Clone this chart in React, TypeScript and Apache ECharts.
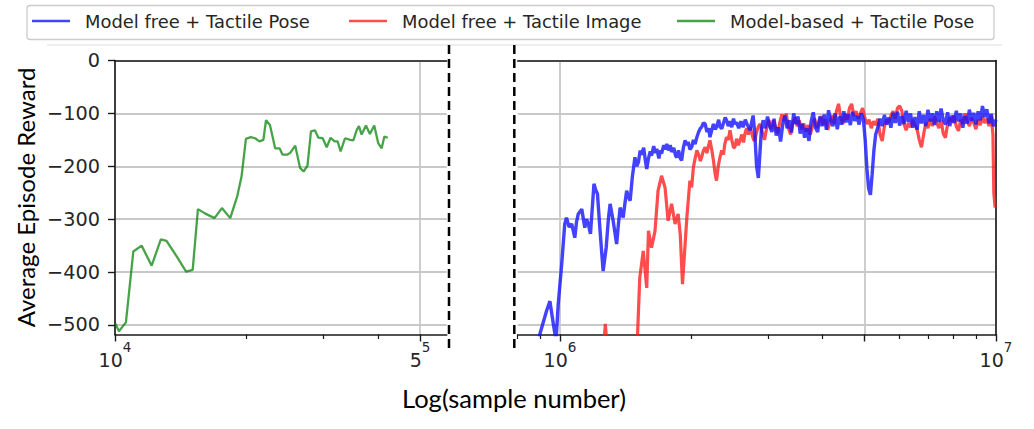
import React, { useEffect, useRef } from 'react';
import * as echarts from 'echarts';

// ---------- data: [log10(sample number), average episode reward] ----------
const greenPoints = [
  [4.000,-496],[4.009,-512],[4.025,-495],[4.042,-361],[4.061,-350],[4.084,-388],[4.105,-338],[4.118,-341],
  [4.141,-370],[4.163,-399],[4.178,-396],[4.190,-281],[4.206,-289],[4.228,-298],[4.245,-279],[4.264,-298],
  [4.280,-257],[4.290,-219],[4.300,-148],[4.311,-145],[4.321,-147],[4.331,-153],[4.340,-150],[4.346,-113],
  [4.355,-122],[4.367,-166],[4.377,-166],[4.384,-178],[4.394,-178],[4.401,-175],[4.413,-161],[4.424,-203],
  [4.432,-210],[4.441,-199],[4.449,-134],[4.458,-132],[4.466,-146],[4.476,-147],[4.485,-164],[4.494,-146],
  [4.503,-153],[4.510,-153],[4.517,-172],[4.527,-147],[4.539,-150],[4.546,-151],[4.554,-131],[4.559,-124],
  [4.565,-140],[4.575,-123],[4.584,-139],[4.594,-123],[4.603,-156],[4.611,-166],[4.617,-144],[4.625,-146],
];

const bluePoints = [
  [5.945,-560],[5.954,-517],[5.969,-474],[5.977,-455],[5.985,-499],[5.991,-530],[5.996,-461],[6.004,-385],
  [6.011,-309],[6.015,-297],[6.021,-315],[6.027,-309],[6.034,-335],[6.038,-305],[6.042,-290],[6.050,-281],
  [6.057,-316],[6.061,-300],[6.065,-309],[6.070,-328],[6.078,-233],[6.082,-245],[6.086,-252],[6.092,-322],
  [6.099,-398],[6.106,-354],[6.111,-300],[6.115,-271],[6.122,-303],[6.130,-347],[6.134,-310],[6.138,-278],
  [6.145,-297],[6.149,-270],[6.153,-246],[6.157,-258],[6.161,-265],[6.166,-220],
  [6.172,-183],[6.176,-200],[6.180,-192],[6.184,-170],[6.187,-178],[6.192,-165],[6.196,-190],[6.199,-205],
  [6.203,-185],[6.207,-172],[6.210,-180],[6.215,-162],[6.219,-175],[6.222,-167],[6.227,-185],[6.230,-170],
  [6.233,-176],[6.238,-160],[6.241,-168],[6.245,-158],[6.249,-170],[6.253,-160],[6.256,-173],[6.261,-165],
  [6.265,-180],[6.268,-183],[6.272,-170],[6.276,-185],[6.279,-189],[6.283,-165],[6.287,-151],[6.291,-160],
  [6.294,-154],[6.298,-168],[6.302,-164],[6.306,-150],[6.310,-158],[6.314,-145],[6.318,-135],[6.322,-128],
  [6.325,-126],[6.329,-118],[6.333,-120],[6.337,-135],[6.341,-128],[6.344,-145],[6.348,-132],[6.352,-120],
  [6.356,-130],[6.359,-126],[6.364,-112],[6.367,-125],[6.371,-129],[6.375,-118],[6.379,-108],[6.382,-113],
  [6.386,-124],[6.390,-115],[6.394,-126],[6.398,-110],[6.401,-120],[6.405,-117],[6.410,-128],[6.415,-115],
  [6.420,-126],[6.425,-112],[6.430,-122],[6.436,-132],[6.440,-115],[6.443,-104],[6.447,-140],[6.451,-200],
  [6.455,-222],[6.459,-170],[6.462,-130],
  [6.466,-113],[6.471,-128],[6.476,-106],[6.481,-124],[6.486,-135],[6.491,-110],[6.496,-142],[6.501,-126],
  [6.506,-153],[6.511,-120],[6.516,-104],[6.521,-128],[6.526,-113],[6.531,-136],[6.536,-100],[6.541,-120],
  [6.546,-106],[6.551,-138],[6.556,-120],[6.561,-146],[6.566,-128],[6.571,-152],[6.576,-115],[6.581,-98],
  [6.586,-127],[6.591,-135],[6.596,-106],[6.601,-124],[6.606,-102],[6.611,-131],[6.616,-94],[6.621,-114],
  [6.626,-124],[6.631,-100],[6.636,-130],[6.641,-106],[6.646,-121],[6.651,-96],[6.656,-117],[6.661,-102],
  [6.666,-122],[6.671,-97],[6.676,-114],[6.681,-105],[6.686,-121],[6.691,-100],[6.696,-112],[6.700,-150],
  [6.704,-205],[6.708,-242],[6.712,-254],[6.716,-215],[6.720,-170],[6.724,-140],[6.729,-126],[6.734,-110],
  [6.739,-124],[6.744,-103],[6.749,-121],[6.754,-108],[6.759,-127],[6.764,-99],[6.769,-118],[6.774,-97],
  [6.779,-123],[6.784,-105],[6.789,-120],[6.794,-95],[6.799,-116],[6.804,-100],[6.809,-127],[6.814,-107],
  [6.819,-131],[6.824,-96],[6.829,-119],[6.834,-103],[6.839,-124],[6.844,-93],[6.849,-115],[6.854,-100],
  [6.859,-122],[6.864,-96],[6.869,-116],[6.874,-91],[6.879,-112],[6.884,-121],[6.889,-98],[6.894,-124],
  [6.899,-104],[6.904,-118],[6.909,-95],[6.914,-115],[6.919,-100],[6.924,-127],[6.929,-105],[6.934,-119],
  [6.939,-93],[6.944,-114],[6.949,-99],[6.954,-121],[6.959,-96],[6.964,-113],[6.969,-86],[6.974,-107],
  [6.979,-92],[6.984,-119],[6.989,-101],[6.994,-124],[7.000,-112],
];

const redPoints = [
  [6.099,-560],[6.104,-498],[6.110,-560],[6.176,-560],[6.183,-411],[6.191,-360],[6.199,-430],[6.203,-322],
  [6.210,-354],[6.218,-322],[6.225,-246],[6.233,-218],[6.241,-240],[6.248,-303],[6.256,-271],[6.264,-309],
  [6.271,-290],[6.276,-330],[6.281,-423],[6.286,-360],[6.291,-297],[6.298,-227],[6.302,-240],[6.306,-202],
  [6.310,-185],[6.314,-170],[6.318,-178],[6.322,-190],[6.325,-183],[6.329,-170],[6.333,-164],[6.337,-175],
  [6.341,-160],[6.344,-151],[6.348,-168],[6.352,-189],[6.356,-215],[6.359,-227],[6.363,-200],[6.367,-183],
  [6.371,-170],[6.375,-178],[6.378,-158],[6.382,-145],[6.386,-150],[6.390,-132],[6.394,-150],[6.398,-165],
  [6.401,-164],[6.405,-148],[6.409,-160],[6.413,-151],[6.417,-140],[6.421,-155],[6.424,-139],[6.428,-128],
  [6.432,-140],[6.436,-126],[6.440,-138],[6.444,-150],[6.447,-151],[6.451,-135],[6.455,-125],
  [6.459,-120],[6.464,-135],[6.469,-150],[6.474,-128],[6.479,-112],[6.484,-130],[6.489,-113],[6.494,-125],
  [6.499,-138],[6.504,-118],[6.509,-102],[6.514,-115],[6.519,-100],[6.524,-128],[6.529,-140],[6.534,-118],
  [6.539,-108],[6.544,-124],[6.549,-113],[6.554,-130],[6.559,-119],[6.564,-135],[6.569,-122],[6.574,-140],
  [6.579,-125],[6.584,-110],[6.589,-128],[6.594,-116],[6.599,-105],[6.604,-122],[6.609,-111],[6.614,-131],
  [6.619,-118],[6.624,-104],[6.629,-120],[6.634,-96],[6.639,-82],[6.644,-108],[6.649,-120],[6.654,-100],
  [6.659,-112],[6.664,-90],[6.669,-82],[6.674,-105],[6.679,-96],[6.684,-110],[6.689,-100],[6.694,-90],
  [6.699,-108],[6.704,-120],[6.709,-112],[6.714,-128],[6.719,-115],[6.724,-122],[6.729,-110],[6.734,-140],
  [6.739,-152],[6.744,-125],[6.749,-112],[6.754,-118],[6.759,-104],[6.764,-96],[6.769,-110],[6.774,-90],
  [6.779,-86],[6.784,-95],[6.789,-120],[6.794,-132],[6.799,-118],[6.804,-126],[6.809,-112],[6.814,-122],
  [6.819,-130],[6.824,-150],[6.829,-164],[6.834,-140],[6.839,-118],[6.844,-128],[6.849,-110],[6.854,-124],
  [6.859,-106],[6.864,-118],[6.869,-128],[6.874,-112],[6.879,-138],[6.884,-146],[6.889,-120],[6.894,-108],
  [6.899,-116],[6.904,-104],[6.909,-125],[6.914,-133],[6.919,-112],[6.924,-120],[6.929,-100],[6.934,-115],
  [6.939,-124],[6.944,-108],[6.949,-118],[6.954,-130],[6.959,-112],[6.964,-122],[6.969,-106],[6.974,-118],
  [6.979,-110],[6.984,-124],[6.989,-104],[6.993,-140],[6.995,-250],[6.998,-278],
];

const seriesNames = ['Model free + Tactile Pose', 'Model free + Tactile Image', 'Model-based + Tactile Pose'];

// ticks (in sample numbers); labels are base with superscript exponent
const leftMajorSamples = [1e4, 5e4];
const leftMajorBase = ['10', '5'];
const leftMajorExp = ['4', '5'];
const leftMinorSamples = [2e4, 3e4, 4e4];
const rightMajorSamples = [1e6, 5e6, 1e7];
const rightMajorBase = ['10', '', '10'];
const rightMajorExp = ['6', '', '7'];
const rightMinorSamples = [8e5, 9e5, 2e6, 3e6, 4e6, 6e6, 7e6, 8e6, 9e6];
const yTicks = [-500, -400, -300, -200, -100, 0];

// ---------- styling ----------
const FONT = 'DejaVu Sans';
const TXT = '#262626';
const SPINE = '#1a1a1a';
const GRIDC = '#c8c8c8';
const BLUE = 'rgba(20,20,255,0.8)';
const RED = 'rgba(255,25,25,0.78)';
const GREEN = 'rgba(0,128,0,0.72)';
const BASE_FS = 19;
const EXP_FS = 13.5;
const DIGIT_W = 0.636; // DejaVu Sans digit advance (em)

const lg = (a: number[]) => a.map((v) => Math.log10(v));

const staticGraphics = [
  {
    type: 'rect', z: 1,
    shape: { x: 27, y: 5.5, width: 967, height: 34, r: 3 },
    style: { fill: '#ffffff', stroke: '#cccccc', lineWidth: 1.3 },
  },
  {
    type: 'line', z: 1,
    shape: { x1: 47, y1: 45, x2: 1002, y2: 45 },
    style: { stroke: '#dddddd', lineWidth: 1 },
  },
  {
    type: 'line', z: 5,
    shape: { x1: 449, y1: 45, x2: 449, y2: 352 },
    style: { stroke: '#000', lineWidth: 2.5, lineDash: [9, 5] },
  },
  {
    type: 'line', z: 5,
    shape: { x1: 514.3, y1: 45, x2: 514.3, y2: 352 },
    style: { stroke: '#000', lineWidth: 2.5, lineDash: [9, 5] },
  },
  {
    type: 'text', z: 5, x: 514, y: 397.5,
    style: { text: 'Log(sample number)', fontFamily: 'Lato', fontSize: 25.5, fill: '#000', align: 'center', verticalAlign: 'middle' },
  },
];

function buildOption() {
  const lMaj = lg(leftMajorSamples);
  const lMin = lg(leftMinorSamples);
  const rMaj = lg(rightMajorSamples);
  const rMin = lg(rightMinorSamples);
  const leftMin = 4;
  const leftMax = 4.76;
  const rightMin = Math.log10(8e5);
  const rightMax = 7;
  const yMin = -518;

  const mainX = (grid: number, min: number, max: number, maj: number[]) => ({
    type: 'value', gridIndex: grid, min, max, position: 'bottom',
    axisLine: { show: true, onZero: false, lineStyle: { color: SPINE, width: 1.6 } },
    axisTick: { show: true, customValues: maj, length: 7, lineStyle: { color: SPINE, width: 1.4 } },
    axisLabel: { show: false, customValues: maj },
    splitLine: { show: true, lineStyle: { color: GRIDC, width: 1.8 } },
  });
  const minorX = (grid: number, min: number, max: number, mn: number[]) => ({
    type: 'value', gridIndex: grid, min, max, position: 'bottom',
    axisLine: { show: false, onZero: false },
    axisTick: { show: true, customValues: mn, length: 4.5, lineStyle: { color: SPINE, width: 1.2 } },
    axisLabel: { show: false },
    splitLine: { show: false },
  });
  const topX = (grid: number, min: number, max: number) => ({
    type: 'value', gridIndex: grid, min, max, position: 'top',
    axisLine: { show: true, onZero: false, lineStyle: { color: SPINE, width: 1.6 } },
    axisTick: { show: false }, axisLabel: { show: false }, splitLine: { show: false },
  });

  const legendLefts = [32, 349, 677];
  const colors = [BLUE, RED, GREEN];

  return {
    animation: false,
    backgroundColor: '#ffffff',
    grid: [
      { left: 115, top: 60.5, width: 331.7, height: 274 },
      { left: 517.7, top: 60.5, width: 478.3, height: 274 },
    ],
    legend: seriesNames.map((name, i) => ({
      data: [name],
      left: legendLefts[i],
      top: 12,
      padding: 0,
      itemWidth: 38,
      itemHeight: 2.5,
      icon: 'rect',
      selectedMode: false,
      z: 10,
      itemStyle: { color: colors[i] },
      textStyle: { fontFamily: FONT, fontSize: 17.9, color: TXT, padding: [0, 0, 0, 10] },
    })),
    xAxis: [
      mainX(0, leftMin, leftMax, lMaj),
      minorX(0, leftMin, leftMax, lMin),
      topX(0, leftMin, leftMax),
      mainX(1, rightMin, rightMax, rMaj),
      minorX(1, rightMin, rightMax, rMin),
      topX(1, rightMin, rightMax),
    ],
    yAxis: [
      {
        type: 'value', gridIndex: 0, min: yMin, max: 0, position: 'left',
        name: 'Average Episode Reward', nameLocation: 'middle', nameGap: 78,
        nameTextStyle: { fontFamily: 'Lato', fontSize: 24, color: '#000' },
        axisLine: { show: true, onZero: false, lineStyle: { color: SPINE, width: 1.6 } },
        axisTick: { show: true, customValues: yTicks, length: 7, lineStyle: { color: SPINE, width: 1.4 } },
        axisLabel: {
          customValues: yTicks, margin: 15, fontFamily: FONT, fontSize: 19.3, color: TXT,
          formatter: (v: number) => (v < 0 ? '\u2212' + Math.abs(v) : String(v)),
        },
        splitLine: { show: true, lineStyle: { color: GRIDC, width: 1.8 } },
      },
      {
        type: 'value', gridIndex: 1, min: yMin, max: 0, position: 'left',
        axisLine: { show: false, onZero: false },
        axisTick: { show: false, customValues: yTicks },
        axisLabel: { show: false, customValues: yTicks },
        splitLine: { show: true, lineStyle: { color: GRIDC, width: 1.8 } },
      },
      {
        type: 'value', gridIndex: 1, min: yMin, max: 0, position: 'right',
        axisLine: { show: true, onZero: false, lineStyle: { color: SPINE, width: 1.6 } },
        axisTick: { show: false }, axisLabel: { show: false }, splitLine: { show: false },
      },
    ],
    series: [
      {
        name: seriesNames[1], type: 'line', xAxisIndex: 3, yAxisIndex: 1,
        data: redPoints, symbol: 'none', showSymbol: false, z: 2,
        lineStyle: { color: RED, width: 3.2 }, itemStyle: { color: RED },
      },
      {
        name: seriesNames[0], type: 'line', xAxisIndex: 3, yAxisIndex: 1,
        data: bluePoints, symbol: 'none', showSymbol: false, z: 3,
        lineStyle: { color: BLUE, width: 3.4 }, itemStyle: { color: BLUE },
      },
      {
        name: seriesNames[2], type: 'line', xAxisIndex: 0, yAxisIndex: 0,
        data: greenPoints, symbol: 'none', showSymbol: false, z: 2,
        lineStyle: { color: GREEN, width: 2.3 }, itemStyle: { color: GREEN },
      },
    ],
    graphic: staticGraphics,
  };
}

// x tick labels (base + raised exponent), placed at the axis' own pixel positions
function tickLabelGraphics(chart: any) {
  const out: any[] = [];
  const add = (axisIndex: number, samples: number[], base: string[], exp: string[]) => {
    samples.forEach((s, i) => {
      if (!base[i]) return;
      const px = chart.convertToPixel({ xAxisIndex: axisIndex }, Math.log10(s));
      const baseW = DIGIT_W * BASE_FS * base[i].length;
      const expW = DIGIT_W * EXP_FS * exp[i].length;
      // keep the exponent's text distinct from an identical base (e.g. "5" and "5")
      const expText = exp[i] === base[i] ? exp[i] + '\u200B' : exp[i];
      out.push({
        type: 'text', z: 6, x: px - expW / 2, y: 360,
        style: { text: base[i], fontFamily: FONT, fontSize: BASE_FS, fill: TXT, align: 'center', verticalAlign: 'middle' },
      });
      out.push({
        type: 'text', z: 6, x: px + baseW / 2, y: 346.5,
        style: { text: expText, fontFamily: FONT, fontSize: EXP_FS, fill: TXT, align: 'center', verticalAlign: 'middle' },
      });
    });
  };
  add(0, leftMajorSamples, leftMajorBase, leftMajorExp);
  add(3, rightMajorSamples, rightMajorBase, rightMajorExp);
  return out;
}

export default function App() {
  const ref = useRef<HTMLDivElement>(null);
  useEffect(() => {
    if (!ref.current) return;
    const chart = echarts.init(ref.current, null, { renderer: 'svg' });
    chart.setOption(buildOption() as any);
    chart.setOption(
      { graphic: [...staticGraphics, ...tickLabelGraphics(chart)] } as any,
      { replaceMerge: ['graphic'] } as any,
    );
    return () => chart.dispose();
  }, []);
  return (
    <div
      ref={ref}
      style={{ position: 'fixed', left: 0, top: 0, width: 1034, height: 429, background: '#fff' }}
    />
  );
}
